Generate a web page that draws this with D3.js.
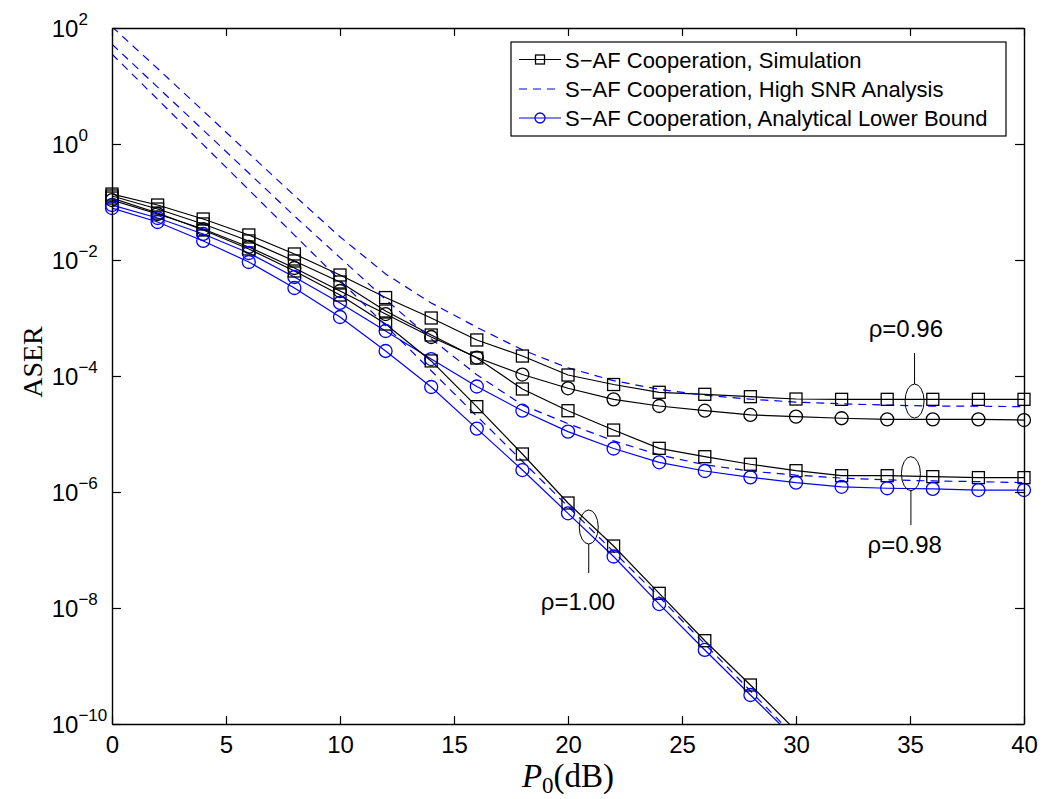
<!DOCTYPE html>
<html><head><meta charset="utf-8">
<script src="https://cdn.jsdelivr.net/npm/d3@7"></script>
<style>body{margin:0;background:#fff}svg{display:block}</style>
</head><body>
<svg id="chart" width="1044" height="799"></svg>
<script>
// ---------------- data ----------------
const snrDb      = [0,2,4,6,8,10,12,14,16,18,20,22,24,26,28,30,32,34,36,38,40];
const snrDbRho100 = [0,2,4,6,8,10,12,14,16,18,20,22,24,26,28,30];

// Simulation (black squares)
const sim096 = [1.37e-1,8.87e-2,5.09e-2,2.70e-2,1.27e-2,5.51e-3,2.25e-3,1.0e-3,4.18e-4,2.21e-4,1.04e-4,7.13e-5,5.24e-5,4.83e-5,4.40e-5,4.01e-5,3.96e-5,3.96e-5,3.96e-5,3.96e-5,3.96e-5];
const sim098 = [1.27e-1,7.57e-2,4.18e-2,2.13e-2,9.62e-3,4.18e-3,1.32e-3,5.09e-4,2.04e-4,5.97e-5,2.52e-5,1.17e-5,5.66e-6,4.06e-6,3.01e-6,2.33e-6,1.91e-6,1.91e-6,1.84e-6,1.77e-6,1.77e-6];
const sim100 = [1.17e-1,6.46e-2,3.29e-2,1.55e-2,6.46e-3,2.49e-3,7.88e-4,1.82e-4,2.96e-5,4.52e-6,6.46e-7,1.17e-7,1.79e-8,2.73e-9,4.70e-10,7.66e-11];

// High SNR analysis (blue dashed)
const hsnr096 = [1.05e2,2.0e1,3.72,6.9e-1,1.29e-1,2.51e-2,5.75e-3,1.82e-3,6.92e-4,2.82e-4,1.38e-4,8.32e-5,5.89e-5,4.68e-5,3.98e-5,3.55e-5,3.31e-5,3.16e-5,3.02e-5,3.02e-5,2.95e-5];
const hsnr098 = [5.25e1,9.55,1.74,3.16e-1,5.75e-2,1.10e-2,2.09e-3,4.37e-4,1.05e-4,3.16e-5,1.51e-5,7.59e-6,4.37e-6,2.95e-6,2.29e-6,1.95e-6,1.74e-6,1.62e-6,1.55e-6,1.51e-6,1.45e-6];
const hsnr100 = [3.55e1,5.89,9.77e-1,1.62e-1,2.69e-2,4.47e-3,7.41e-4,1.23e-4,2.04e-5,3.39e-6,5.62e-7,9.33e-8,1.55e-8,2.40e-9,3.72e-10,5.75e-11];

// Analytical lower bound (circles)
const lb096 = [1.08e-1,6.21e-2,3.42e-2,1.68e-2,7.28e-3,2.92e-3,1.17e-3,4.70e-4,2.08e-4,1.06e-4,6.14e-5,3.96e-5,3.04e-5,2.52e-5,2.13e-5,1.99e-5,1.87e-5,1.79e-5,1.79e-5,1.79e-5,1.74e-5];
const lb098 = [8.87e-2,5.30e-2,2.81e-2,1.32e-2,5.09e-3,1.82e-3,5.97e-4,1.96e-4,6.59e-5,2.52e-5,1.10e-5,5.62e-6,3.25e-6,2.30e-6,1.79e-6,1.45e-6,1.23e-6,1.16e-6,1.13e-6,1.08e-6,1.08e-6];
const lb100 = [7.88e-2,4.52e-2,2.13e-2,9.24e-3,3.29e-3,1.04e-3,2.70e-4,6.46e-5,1.24e-5,2.39e-6,4.29e-7,7.72e-8,1.17e-8,1.89e-9,3.16e-10,5.30e-11];

const xTicks = [0,5,10,15,20,25,30,35,40];
const yTicks = [1e-10,1e-8,1e-6,1e-4,1e-2,1e0,1e2];

const legendLabels = ["S\u2212AF Cooperation, Simulation",
                      "S\u2212AF Cooperation, High SNR Analysis",
                      "S\u2212AF Cooperation, Analytical Lower Bound"];

// annotation labels with their anchor points in data coordinates
const rhoLabels   = ["\u03c1=0.96", "\u03c1=0.98", "\u03c1=1.00"];
const rhoEllipseX = [35.2, 35.04, 20.91];
const rhoEllipseY = [3.7e-5, 2.07e-6, 2.49e-7];
const rhoLineEndY = [2.49e-4, 2.70e-7, 4.0e-8];
const rhoTextX    = [34.82, 34.77, 20.44];
const rhoTextY    = [4.7e-4, 8.9e-8, 9.2e-9];

// ---------------- drawing ----------------
const svg = d3.select("#chart");
const m = {l:112, r:1024, t:28, b:724};
const x = d3.scaleLinear().domain([0,40]).range([m.l, m.r]);
const y = d3.scaleLog().domain([1e-10,1e2]).range([m.b, m.t]);
const FONT = "'Liberation Sans', Arial, Helvetica, sans-serif";
const SERIF = "'Liberation Serif', 'Times New Roman', serif";
const BLUE = "#0000ff";
const DASH = "8,6";

svg.append("rect").attr("width",1044).attr("height",799).attr("fill","#fff");
svg.append("defs").append("clipPath").attr("id","plotclip")
  .append("rect").attr("x",m.l).attr("y",m.t).attr("width",m.r-m.l).attr("height",m.b-m.t);

const series = [
  {xs:snrDb, ys:sim096, color:"#000", dash:null, marker:"square"},
  {xs:snrDb, ys:hsnr096, color:BLUE, dash:DASH, marker:null},
  {xs:snrDb, ys:lb096, color:"#000", dash:null, marker:"circle"},
  {xs:snrDb, ys:sim098, color:"#000", dash:null, marker:"square"},
  {xs:snrDb, ys:hsnr098, color:BLUE, dash:DASH, marker:null},
  {xs:snrDb, ys:lb098, color:BLUE, dash:null, marker:"circle"},
  {xs:snrDbRho100, ys:sim100, color:"#000", dash:null, marker:"square"},
  {xs:snrDbRho100, ys:hsnr100, color:BLUE, dash:DASH, marker:null},
  {xs:snrDbRho100, ys:lb100, color:BLUE, dash:null, marker:"circle"}
];

const line = d3.line().x(d=>x(d[0])).y(d=>y(d[1]));
const gLines = svg.append("g").attr("clip-path","url(#plotclip)");
const gMarks = svg.append("g");

function drawMarker(g, type, cx, cy, color, size){
  if(type==="square"){
    g.append("rect").attr("x",cx-size/2).attr("y",cy-size/2).attr("width",size).attr("height",size)
      .attr("fill","none").attr("stroke",color).attr("stroke-width",1.3);
  } else if(type==="circle"){
    g.append("circle").attr("cx",cx).attr("cy",cy).attr("r",size/2+0.5)
      .attr("fill","none").attr("stroke",color).attr("stroke-width",1.3);
  }
}

series.forEach(s=>{
  const pts = s.xs.map((v,i)=>[v, s.ys[i]]);
  gLines.append("path").datum(pts).attr("d",line)
    .attr("fill","none").attr("stroke",s.color).attr("stroke-width",1.2)
    .attr("stroke-dasharray",s.dash);
  if(s.marker){
    pts.filter(p=>p[1]>=1e-10 && p[1]<=1e2).forEach(p=>drawMarker(gMarks,s.marker,x(p[0]),y(p[1]),s.color,12));
  }
});

// axes (ticks inside, box)
const axB = svg.append("g").attr("transform",`translate(0,${m.b})`)
  .call(d3.axisBottom(x).tickValues(xTicks).tickSizeInner(-8).tickSizeOuter(0).tickPadding(12));
const axT = svg.append("g").attr("transform",`translate(0,${m.t})`)
  .call(d3.axisTop(x).tickValues(xTicks).tickSizeInner(-8).tickSizeOuter(0).tickFormat(""));
const axL = svg.append("g").attr("transform",`translate(${m.l},0)`)
  .call(d3.axisLeft(y).tickValues(yTicks).tickSizeInner(-9).tickSizeOuter(0).tickFormat(""));
const axR = svg.append("g").attr("transform",`translate(${m.r},0)`)
  .call(d3.axisRight(y).tickValues(yTicks).tickSizeInner(-9).tickSizeOuter(0).tickFormat(""));
[axB,axT,axL,axR].forEach(a=>{
  a.selectAll("path.domain").attr("stroke","#000").attr("stroke-width",1.4);
  a.selectAll(".tick line").attr("stroke","#000").attr("stroke-width",1.2);
});
axB.selectAll(".tick text").attr("font-family",FONT).attr("font-size",24).attr("fill","#000");

// y tick labels 10^k
const yl = svg.append("g");
yTicks.forEach(v=>{
  const e = Math.round(Math.log10(v));
  const t = yl.append("text").attr("x",51.7).attr("y",y(v)+9)
    .attr("font-family",FONT).attr("font-size",24).attr("fill","#000");
  t.append("tspan").text("10");
  t.append("tspan").attr("dy",-12).attr("font-size",17).text(e<0 ? "\u2212"+(-e) : String(e));
});

// axis titles
svg.append("text").attr("transform",`translate(42,${(m.t+m.b)/2-14}) rotate(-90)`)
  .attr("text-anchor","middle").attr("font-family",SERIF).attr("font-size",28).text("ASER");
const xl = svg.append("text").attr("x",(m.l+m.r)/2).attr("y",787)
  .attr("text-anchor","middle").attr("font-family",SERIF).attr("font-size",33);
xl.append("tspan").attr("font-style","italic").text("P");
xl.append("tspan").attr("font-size",23).attr("dy",6).text("0");
xl.append("tspan").attr("dy",-6).text("(dB)");

// annotations
const ga = svg.append("g");
rhoLabels.forEach((lab,i)=>{
  const ex = x(rhoEllipseX[i]), ey = y(rhoEllipseY[i]);
  ga.append("ellipse").attr("cx",ex).attr("cy",ey).attr("rx",9.5).attr("ry",17)
    .attr("fill","none").attr("stroke","#000").attr("stroke-width",1);
  const ly = y(rhoLineEndY[i]);
  ga.append("line").attr("x1",ex).attr("x2",ex)
    .attr("y1", ly<ey ? ey-17 : ey+17).attr("y2",ly)
    .attr("stroke","#000").attr("stroke-width",1);
  ga.append("text").attr("x",x(rhoTextX[i])).attr("y",y(rhoTextY[i]))
    .attr("text-anchor","middle").attr("font-family",FONT).attr("font-size",24).text(lab);
});

// legend
const lg = svg.append("g");
lg.append("rect").attr("x",511).attr("y",42).attr("width",495).attr("height",94)
  .attr("fill","#fff").attr("stroke","#000").attr("stroke-width",1.2);
const legStyles = [
  {color:"#000", dash:null, marker:"square"},
  {color:BLUE, dash:DASH, marker:null},
  {color:BLUE, dash:null, marker:"circle"}
];
const rowY = [59.5, 89, 118];
legendLabels.forEach((lab,i)=>{
  const st = legStyles[i];
  lg.append("line").attr("x1",519).attr("x2",561).attr("y1",rowY[i]).attr("y2",rowY[i])
    .attr("stroke",st.color).attr("stroke-width",1.2).attr("stroke-dasharray",st.dash);
  if(st.marker) drawMarker(lg, st.marker, 540, rowY[i], st.color, 9);
  lg.append("text").attr("x",565).attr("y",rowY[i]+8).attr("font-family",FONT)
    .attr("font-size",22).attr("fill","#000").text(lab);
});
</script>
</body></html>
